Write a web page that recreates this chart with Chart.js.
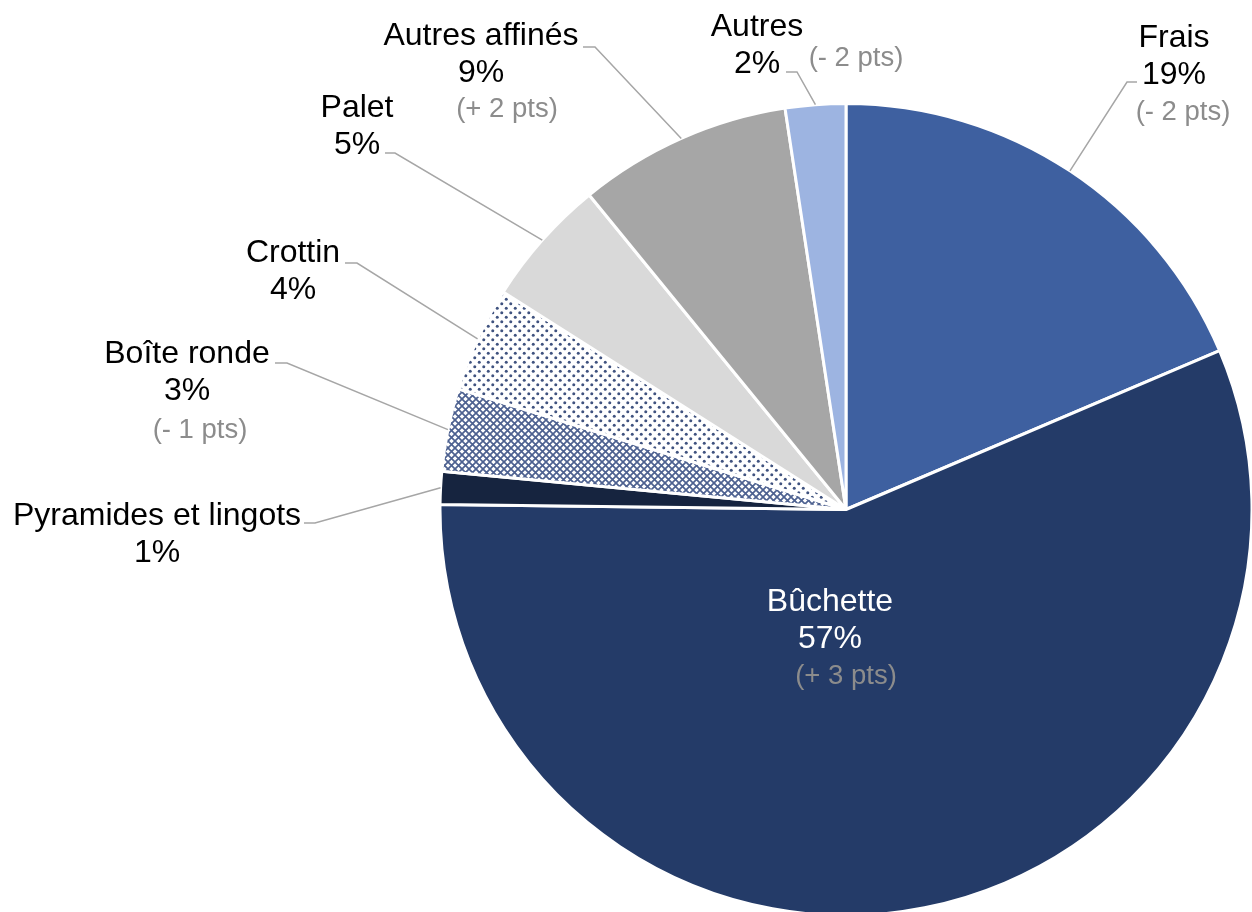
<!DOCTYPE html>
<html>
<head>
<meta charset="utf-8">
<title>Répartition par segment</title>
<script src="https://cdn.jsdelivr.net/npm/chart.js@4/dist/chart.umd.min.js"></script>
<style>
    html, body { margin: 0; padding: 0; background: #ffffff; }
    #wrap { width: 1252px; height: 912px; }
</style>
</head>
<body>
<div id="wrap"><canvas id="pieChart" width="1252" height="912"></canvas></div>
<script>
// Categories, clockwise from 12 o'clock
const categories = ['Frais', 'Bûchette', 'Pyramides et lingots', 'Boîte ronde', 'Crottin', 'Palet', 'Autres affinés', 'Autres'];
// Shares in %
const shares = [18.6, 56.6, 1.3, 3.3, 4.2, 5.1, 8.5, 2.4];
// Change vs previous period, in points (null = not shown)
const deltas = ['- 2', '+ 3', null, '- 1', null, null, '+ 2', '- 2'];

// Label placement (annotation layout, not data)
const labelLayout = [
    { x: 1174, y: 47, elbow: [1127, 82], end: [1137, 82], dx: 1183, dy: 120 },
    { x: 830, y: 611, inside: true, dx: 846, dy: 684 },
    { x: 157, y: 525, elbow: [315, 523], end: [304, 523] },
    { x: 187, y: 363, elbow: [287, 363], end: [275, 363], dx: 200, dy: 438 },
    { x: 293, y: 262, elbow: [357, 263], end: [345, 263] },
    { x: 357, y: 117, elbow: [395, 153], end: [385, 153] },
    { x: 481, y: 45, elbow: [595, 47], end: [583, 47], dx: 507, dy: 117 },
    { x: 757, y: 36, elbow: [797, 72], end: [786, 72], dx: 856, dy: 66 }
];

const FONT = '"Liberation Sans", Arial, sans-serif';

function makeCrosshatch() {
    const c = document.createElement('canvas');
    c.width = 7; c.height = 7;
    const g = c.getContext('2d');
    g.fillStyle = '#ffffff';
    g.fillRect(0, 0, 7, 7);
    g.strokeStyle = '#4d6190';
    g.lineWidth = 1.7;
    g.beginPath();
    g.moveTo(-1, -1); g.lineTo(8, 8);
    g.moveTo(8, -1); g.lineTo(-1, 8);
    g.stroke();
    return g.createPattern(c, 'repeat');
}

function makeDots() {
    const c = document.createElement('canvas');
    c.width = 9; c.height = 9;
    const g = c.getContext('2d');
    g.fillStyle = '#ffffff';
    g.fillRect(0, 0, 9, 9);
    g.fillStyle = '#3f527f';
    [[2.25, 2.25], [6.75, 6.75]].forEach(p => {
        g.beginPath();
        g.arc(p[0], p[1], 1.5, 0, Math.PI * 2);
        g.fill();
    });
    return g.createPattern(c, 'repeat');
}

const ctxEl = document.getElementById('pieChart');
const sliceColors = ['#3e60a0', '#243b68', '#16243f', makeCrosshatch(), makeDots(), '#d9d9d9', '#a6a6a6', '#9db4e1'];

// Draws the leader lines and the labels
const pieLabels = {
    id: 'pieLabels',
    afterDraw(chart) {
        const ctx = chart.ctx;
        const meta = chart.getDatasetMeta(0);
        ctx.save();
        ctx.textAlign = 'center';
        ctx.textBaseline = 'alphabetic';
        meta.data.forEach((arc, i) => {
            const lay = labelLayout[i];
            if (!lay) return;
            if (!lay.inside) {
                const mid = (arc.startAngle + arc.endAngle) / 2;
                const sx = arc.x + Math.cos(mid) * arc.outerRadius;
                const sy = arc.y + Math.sin(mid) * arc.outerRadius;
                ctx.strokeStyle = '#a6a6a6';
                ctx.lineWidth = 1.5;
                ctx.beginPath();
                ctx.moveTo(sx, sy);
                ctx.lineTo(lay.elbow[0], lay.elbow[1]);
                ctx.lineTo(lay.end[0], lay.end[1]);
                ctx.stroke();
            }
            ctx.fillStyle = lay.inside ? '#ffffff' : '#000000';
            ctx.font = '32px ' + FONT;
            ctx.fillText(categories[i], lay.x, lay.y);
            ctx.fillText(Math.round(shares[i]) + '%', lay.x, lay.y + 37);
            if (deltas[i]) {
                ctx.fillStyle = '#8c8c8c';
                ctx.font = '27.5px ' + FONT;
                ctx.fillText('(' + deltas[i] + ' pts)', lay.dx, lay.dy);
            }
        });
        ctx.restore();
    }
};

new Chart(ctxEl, {
    type: 'pie',
    data: {
        labels: categories,
        datasets: [{
            data: shares,
            backgroundColor: sliceColors,
            borderColor: '#ffffff',
            borderWidth: 3,
            radius: 406
        }]
    },
    options: {
        responsive: false,
        animation: false,
        layout: { padding: { left: 440, right: 0, top: 107, bottom: 0 } },
        plugins: {
            legend: { display: false },
            tooltip: { enabled: false }
        }
    },
    plugins: [pieLabels]
});
</script>
</body>
</html>
